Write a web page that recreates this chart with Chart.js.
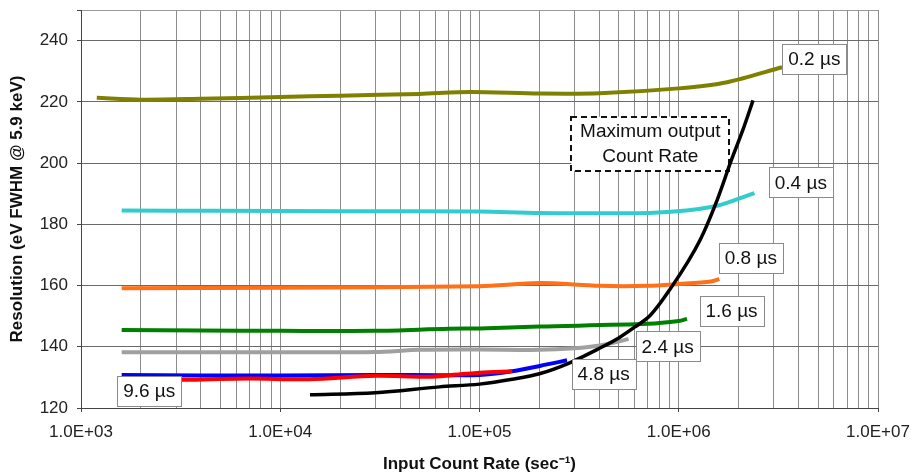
<!DOCTYPE html>
<html><head><meta charset="utf-8">
<script src="https://cdn.jsdelivr.net/npm/chart.js@4/dist/chart.umd.min.js"></script>
<style>html,body{margin:0;padding:0;background:#fff}#wrap{width:912px;height:476px;position:relative}</style>
</head><body><div id="wrap"><canvas id="c"></canvas></div>
<script>
// ---- data (input count rate in counts/s, resolution in eV) ----
const x02 = [1200, 2000, 4000, 10000, 20000, 50000, 90000, 200000, 400000, 1000000, 1750000, 3300000];
const y02 = [221.3, 220.7, 221.0, 221.6, 222.0, 222.6, 223.2, 222.7, 222.8, 224.4, 226.4, 231.3];
const x04 = [1600, 5000, 20000, 100000, 200000, 750000, 1500000, 2400000];
const y04 = [184.5, 184.4, 184.3, 184.2, 183.7, 183.8, 185.8, 190.2];
const x08 = [1600, 10000, 100000, 200000, 400000, 700000, 1000000, 1450000, 1600000];
const y08 = [159.1, 159.3, 159.8, 160.8, 159.9, 159.9, 160.5, 161.3, 162.1];
const x16 = [1600, 4000, 10000, 30000, 70000, 100000, 200000, 700000, 1000000, 1100000];
const y16 = [145.5, 145.3, 145.2, 145.2, 145.9, 146.0, 146.6, 147.5, 148.4, 149.1];
const x24 = [1600, 10000, 30000, 50000, 100000, 200000, 300000, 400000, 560000];
const y24 = [138.2, 138.2, 138.3, 139.0, 139.1, 139.0, 139.5, 140.4, 142.5];
const x48 = [1600, 4000, 10000, 30000, 100000, 146000, 225000, 275000];
const y48 = [130.8, 130.6, 130.6, 130.8, 130.8, 132.0, 134.4, 135.6];
const x96 = [3200, 7000, 14000, 30000, 55000, 80000, 100000, 146000];
const y96 = [129.2, 129.6, 129.4, 130.5, 130.2, 131.0, 131.5, 132.0];
const xMax = [14100, 30000, 63000, 100000, 146000, 200000, 280000, 400000, 500000, 600000, 720000, 900000, 1280000, 1560000, 1840000, 2100000, 2360000];
const yMax = [124.3, 125.0, 126.9, 127.8, 129.4, 131.2, 134.6, 139.5, 142.9, 146.4, 150.3, 158.6, 174.9, 188.0, 201.1, 210.9, 220.5];

// ---- labels ----
const seriesLabels = ['0.2 µs', '0.4 µs', '0.8 µs', '1.6 µs', '2.4 µs', '4.8 µs', '9.6 µs'];
const seriesLabelX = [4.79e6, 4.1e6, 2.3e6, 1.84e6, 8.8e5, 4.2e5, 2.2e3];
const seriesLabelY = [234.1, 193.7, 169.0, 151.6, 140.1, 131.1, 125.5];
const maxLabelLines = ['Maximum output', 'Count Rate'];
const maxLabelX = 7.2e5;
const maxLabelY = 206.3;

// ---- ticks ----
const decades = [1e3, 1e4, 1e5, 1e6, 1e7];
const decadeLabels = ['1.0E+03', '1.0E+04', '1.0E+05', '1.0E+06', '1.0E+07'];
const minorMantissas = [2, 3, 4, 5, 6, 7, 8, 9];
const yTickStep = 20;

const FONT = '"Liberation Sans", Arial, Helvetica, sans-serif';
const xTickValues = [];
decades.forEach((d, i) => {
  xTickValues.push(d);
  if (i < decades.length - 1) minorMantissas.forEach(m => xTickValues.push(m * d));
});

const pts = (xs, ys) => xs.map((x, i) => ({x: x, y: ys[i]}));

function ds(data, color, width, extra) {
  return Object.assign({
    data: data, borderColor: color, backgroundColor: color, borderWidth: width,
    pointRadius: 0, pointHoverRadius: 0, tension: 0.3, fill: false, borderCapStyle: 'butt'
  }, extra || {});
}

const annot = {
  id: 'annot',
  beforeDatasetsDraw(chart) {
    const ctx = chart.ctx, xs = chart.scales.x, ys = chart.scales.y;
    const cx = xs.getPixelForValue(maxLabelX), cy = ys.getPixelForValue(maxLabelY);
    ctx.save();
    ctx.font = '19px ' + FONT;
    const w = 158, h = 54;
    ctx.fillStyle = '#fff';
    ctx.fillRect(cx - w / 2, cy - h / 2, w, h);
    ctx.setLineDash([6, 4]);
    ctx.lineWidth = 2;
    ctx.strokeStyle = '#111';
    ctx.strokeRect(Math.round(cx - w / 2), Math.round(cy - h / 2), w, h);
    ctx.setLineDash([]);
    ctx.fillStyle = '#111';
    ctx.textAlign = 'center';
    ctx.textBaseline = 'middle';
    ctx.fillText(maxLabelLines[0], cx, cy - 12);
    ctx.fillText(maxLabelLines[1], cx, cy + 13);
    ctx.restore();
  },
  afterDatasetsDraw(chart) {
    const ctx = chart.ctx, xs = chart.scales.x, ys = chart.scales.y;
    ctx.save();
    ctx.font = '19px ' + FONT;
    ctx.textAlign = 'center';
    ctx.textBaseline = 'middle';
    seriesLabels.forEach((t, i) => {
      const cx = xs.getPixelForValue(seriesLabelX[i]), cy = ys.getPixelForValue(seriesLabelY[i]);
      const w = Math.round(ctx.measureText(t).width + 12), h = 30;
      const l = Math.round(cx - w / 2) + 0.5, tp = Math.round(cy - h / 2) + 0.5;
      ctx.fillStyle = '#fff';
      ctx.fillRect(l, tp, w, h);
      ctx.lineWidth = 1;
      ctx.strokeStyle = '#8a8a8a';
      ctx.strokeRect(l, tp, w, h);
      ctx.fillStyle = '#111';
      ctx.fillText(t, cx, cy + 1);
    });
    ctx.restore();
  }
};

new Chart(document.getElementById('c'), {
  type: 'line',
  data: {
    datasets: [
      ds(pts(xMax, yMax), '#000000', 3.5, {cubicInterpolationMode: 'monotone'}),
      ds(pts(x96, y96), '#ff0000', 4),
      ds(pts(x48, y48), '#0000ff', 4),
      ds(pts(x24, y24), '#a0a0a0', 4),
      ds(pts(x16, y16), '#008000', 4),
      ds(pts(x08, y08), '#ff7018', 4),
      ds(pts(x04, y04), '#33cccc', 4),
      ds(pts(x02, y02), '#808000', 4)
    ]
  },
  options: {
    responsive: true,
    maintainAspectRatio: false,
    animation: false,
    events: [],
    layout: {padding: {top: 10, right: 34, left: 0, bottom: 0}},
    plugins: {legend: {display: false}, tooltip: {enabled: false}},
    scales: {
      x: {
        type: 'logarithmic',
        min: decades[0], max: decades[decades.length - 1],
        afterBuildTicks: (scale) => { scale.ticks = xTickValues.map(v => ({value: v, major: decades.includes(v)})); },
        afterFit: (scale) => { scale.height = 68; scale.paddingLeft = 0; scale.paddingRight = 0; },
        ticks: {
          autoSkip: false, maxRotation: 0, minRotation: 0, padding: 10,
          color: '#222', font: {family: FONT, size: 17},
          callback: (v) => { const i = decades.indexOf(v); return i >= 0 ? decadeLabels[i] : ''; }
        },
        grid: {
          color: '#8c8c8c', lineWidth: 1, tickLength: 4,
          tickColor: (c) => (c.tick && decades.includes(c.tick.value)) ? '#444' : 'rgba(0,0,0,0)'
        },
        border: {color: '#444', width: 1},
        title: {display: true, text: 'Input Count Rate (sec⁻¹)', color: '#111',
          font: {family: FONT, size: 17, weight: 'bold'}, padding: {top: 0, bottom: 1}}
      },
      y: {
        type: 'linear',
        min: 120, max: 250,
        afterFit: (scale) => { scale.width = 81; scale.paddingTop = 0; scale.paddingBottom = 0; },
        ticks: {
          stepSize: yTickStep, padding: 9, color: '#222', font: {family: FONT, size: 17},
          callback: (v) => (v % yTickStep === 0 ? String(v) : '')
        },
        grid: {
          color: (c) => (c.tick && c.tick.value === 250) ? '#999' : '#6a6a6a',
          lineWidth: 1, tickLength: 4, tickColor: '#444'
        },
        border: {color: '#444', width: 1},
        title: {display: true, text: 'Resolution (eV FWHM @ 5.9 keV)', color: '#111',
          font: {family: FONT, size: 17, weight: 'bold'}, padding: {top: 7, bottom: 0}}
      }
    }
  },
  plugins: [annot]
});
</script>
</body></html>
